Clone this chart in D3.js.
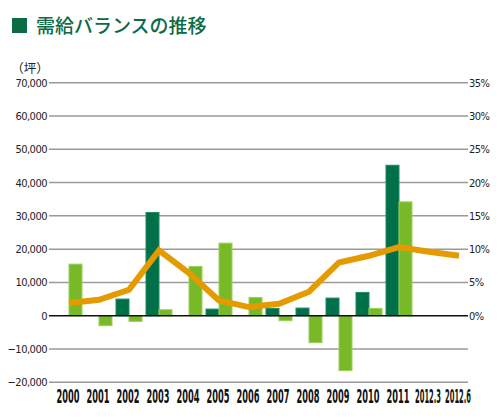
<!DOCTYPE html>
<html>
<head>
<meta charset="utf-8">
<script src="https://cdn.jsdelivr.net/npm/d3@7"></script>
<style>
  body { margin: 0; background: #fff; }
</style>
</head>
<body>
<div id="chart"></div>
<script>
    // chart data
    const years = ['2000', '2001', '2002', '2003', '2004', '2005', '2006',
        '2007', '2008', '2009', '2010', '2011', '2012.3', '2012.6'];
    const supply = [0, 0, 5000, 31000, 0, 2000, 0, 2200, 2300, 5300, 7000, 45200, null, null];
    const demand = [15500, -3000, -1700, 1800, 14800, 21800, 5500, -1500, -8100, -16500, 2200, 34200, null, null];
    const vacancy = [1.9, 2.4, 3.9, 9.8, 6.4, 2.3, 1.3, 1.8, 3.6, 8.0, 9.0, 10.3, 9.6, 9.0];
    const leftTicks = [70000, 60000, 50000, 40000, 30000, 20000, 10000, 0, -10000, -20000];
    const rightTicks = [35, 30, 25, 20, 15, 10, 5, 0];

    const global = {};

    function init( selector ) {

        const svg = d3.select( selector ).append('svg')
            .attr('width', 500)
            .attr('height', 420);

        global.svg = svg;
        global.x = d3.scaleBand().domain( years ).range([ 54, 474 ]).paddingInner(0);
        global.y = d3.scaleLinear().domain([ -20000, 70000 ]).range([ 382.3, 82.7 ]);
        global.y2 = d3.scaleLinear().domain([ -10, 35 ]).range([ 382.3, 82.7 ]);

        drawTitle();
        drawGrid();
        drawBars();
        drawLine();
        drawAxes();
    }

    function drawTitle() {
        const svg = global.svg;
        svg.append('rect')
            .attr('x', 12).attr('y', 18)
            .attr('width', 15).attr('height', 15)
            .attr('fill', '#0b6b45');
        svg.append('text')
            .attr('x', 36).attr('y', 33)
            .attr('font-family', '"Noto Sans CJK JP"')
            .attr('font-weight', 500)
            .attr('font-size', 19)
            .attr('fill', '#0b6b45')
            .text('需給バランスの推移');
        svg.append('text')
            .attr('x', 30).attr('y', 73)
            .attr('text-anchor', 'middle')
            .attr('font-family', '"Noto Sans CJK JP"')
            .attr('font-size', 12.5)
            .attr('fill', '#222')
            .text('（坪）');
    }

    function drawGrid() {
        const g = global.svg.append('g');
        g.selectAll('line')
            .data( leftTicks.filter( d => d !== 0 ) )
            .join('line')
            .attr('x1', 49).attr('x2', 468)
            .attr('y1', d => global.y( d )).attr('y2', d => global.y( d ))
            .attr('stroke', '#9a9a9a')
            .attr('stroke-width', 1.5);
    }

    function drawBars() {
        const x = global.x, y = global.y;
        const w = 13;
        const g = global.svg.append('g');
        const center = d => x( d ) + x.bandwidth() / 2;

        g.selectAll('rect.supply')
            .data( years.map( (d, i) => ({ k: d, v: supply[i] }) ).filter( d => d.v ) )
            .join('rect')
            .attr('class', 'supply')
            .attr('x', d => center( d.k ) - w)
            .attr('width', w)
            .attr('y', d => y( Math.max( 0, d.v ) ))
            .attr('height', d => Math.abs( y( d.v ) - y( 0 ) ))
            .attr('fill', '#00704a')
            .attr('stroke', '#1f8a5e')
            .attr('stroke-width', 1);

        g.selectAll('rect.demand')
            .data( years.map( (d, i) => ({ k: d, v: demand[i] }) ).filter( d => d.v ) )
            .join('rect')
            .attr('class', 'demand')
            .attr('x', d => center( d.k ))
            .attr('width', w)
            .attr('y', d => y( Math.max( 0, d.v ) ))
            .attr('height', d => Math.abs( y( d.v ) - y( 0 ) ))
            .attr('fill', '#78b928')
            .attr('stroke', '#9ccf5a')
            .attr('stroke-width', 1);
    }

    function drawLine() {
        const x = global.x, y2 = global.y2;
        const line = d3.line()
            .x( (d, i) => x( years[i] ) + x.bandwidth() / 2 )
            .y( d => y2( d ) );
        global.svg.append('path')
            .datum( vacancy )
            .attr('d', line)
            .attr('fill', 'none')
            .attr('stroke', '#e59a00')
            .attr('stroke-width', 6)
            .attr('stroke-linejoin', 'miter');
    }

    function drawAxes() {
        const svg = global.svg, y = global.y, y2 = global.y2, x = global.x;

        // zero line
        svg.append('line')
            .attr('x1', 49).attr('x2', 468)
            .attr('y1', y( 0 )).attr('y2', y( 0 ))
            .attr('stroke', '#111')
            .attr('stroke-width', 1.6);

        const fmt = d3.format(',');
        svg.append('g').selectAll('text')
            .data( leftTicks )
            .join('text')
            .attr('x', 47)
            .attr('y', d => y( d ) + 4)
            .attr('text-anchor', 'end')
            .attr('font-family', '"DejaVu Sans Condensed", "DejaVu Sans"')
            .attr('font-size', 11)
            .attr('letter-spacing', -0.5)
            .attr('fill', '#222')
            .text( d => fmt( d ) );

        svg.append('g').selectAll('text')
            .data( rightTicks )
            .join('text')
            .attr('x', 469)
            .attr('y', d => y2( d ) + 4)
            .attr('font-family', '"DejaVu Sans Condensed", "DejaVu Sans"')
            .attr('font-size', 11)
            .attr('letter-spacing', -0.5)
            .attr('fill', '#222')
            .text( d => d + '%' );

        // narrow bold year labels: measure, then squeeze horizontally
        svg.append('g').selectAll('text')
            .data( years )
            .join('text')
            .attr('text-anchor', 'middle')
            .attr('font-family', '"DejaVu Sans Condensed", "DejaVu Sans"')
            .attr('font-weight', 'bold')
            .attr('font-size', 19)
            .attr('fill', '#111')
            .text( d => d )
            .attr('transform', function( d ) {
                const target = d.length > 4 ? 26 : 23;
                const sx = target / this.getComputedTextLength();
                const cx = x( d ) + x.bandwidth() / 2 - 1;
                return 'translate(' + cx + ',403) scale(' + sx + ',1)';
            });
    }

    init('#chart');
</script>
</body>
</html>
